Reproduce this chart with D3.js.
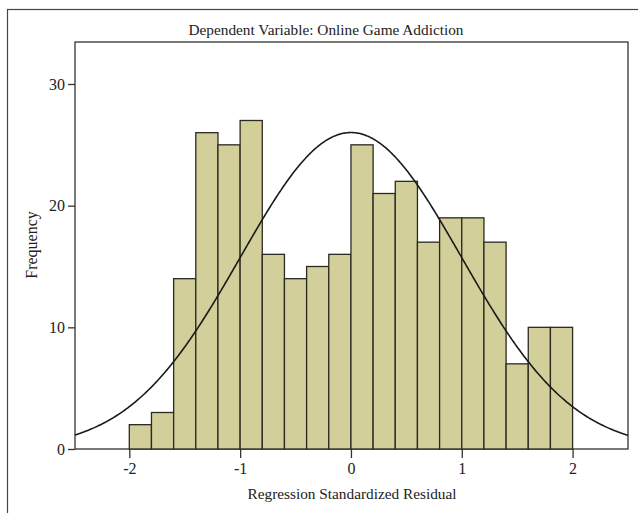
<!DOCTYPE html>
<html lang="en">
<head>
  <meta charset="UTF-8">
  <title>Histogram - Online Game Addiction</title>
  <style>
    body {
      margin: 0;
      padding: 0;
      background: #fff;
    }
    svg text {
      font-family: "Liberation Serif", "Times New Roman", serif;
      fill: #222;
    }
  </style>
</head>
<body>
  <svg id="chart" width="638" height="513"></svg>

  <script src="https://d3js.org/d3.v7.min.js"></script>
  <script>
    // histogram bins (left edge) and counts
    const binStarts = [-2.0, -1.8, -1.6, -1.4, -1.2, -1.0, -0.8, -0.6, -0.4, -0.2,
                        0.0,  0.2,  0.4,  0.6,  0.8,  1.0,  1.2,  1.4,  1.6,  1.8];
    const counts = [2, 3, 14, 26, 25, 27, 16, 14, 15, 16,
                    25, 21, 22, 17, 19, 19, 17, 7, 10, 10];
    const binWidth = 0.2;
    const xTicks = [-2, -1, 0, 1, 2];
    const yTicks = [0, 10, 20, 30];
    // normal curve params (standardized residuals)
    const curveMean = 0;
    const curveSd = 0.997;

    const svg = d3.select('#chart');
    const margin = { left: 75, top: 42, right: 628, bottom: 449 };

    const x = d3.scaleLinear()
      .domain([-2.49, 2.5])
      .range([margin.left, margin.right]);

    const y = d3.scaleLinear()
      .domain([0, 30])
      .range([margin.bottom, 84]);

    // outer frame
    svg.append('rect')
      .attr('x', 7.5)
      .attr('y', 9.5)
      .attr('width', 640)
      .attr('height', 520)
      .attr('fill', 'none')
      .attr('stroke', '#444')
      .attr('stroke-width', 1.2);

    // plot frame
    svg.append('rect')
      .attr('x', margin.left)
      .attr('y', margin.top)
      .attr('width', margin.right - margin.left)
      .attr('height', margin.bottom - margin.top)
      .attr('fill', 'none')
      .attr('stroke', '#333')
      .attr('stroke-width', 1.3);

    // bars
    const data = binStarts.map((b, i) => ({ x0: b, x1: b + binWidth, n: counts[i] }));
    svg.selectAll('.bar')
      .data(data)
      .enter()
      .append('rect')
      .attr('class', 'bar')
      .attr('x', d => x(d.x0))
      .attr('y', d => y(d.n))
      .attr('width', d => x(d.x1) - x(d.x0))
      .attr('height', d => y(0) - y(d.n))
      .attr('fill', '#d3cf9a')
      .attr('stroke', '#2a2a20')
      .attr('stroke-width', 1.3);

    // normal curve
    const total = d3.sum(counts);
    const scaleK = total * binWidth / (curveSd * Math.sqrt(2 * Math.PI));
    const curvePts = d3.range(-2.49, 2.501, 0.01).map(v => [v, scaleK * Math.exp(-0.5 * Math.pow((v - curveMean) / curveSd, 2))]);
    svg.append('path')
      .datum(curvePts)
      .attr('fill', 'none')
      .attr('stroke', '#1a1a1a')
      .attr('stroke-width', 1.6)
      .attr('d', d3.line().x(d => x(d[0])).y(d => y(d[1])));

    // axes
    const xAxis = svg.append('g')
      .attr('transform', `translate(0, ${margin.bottom})`)
      .call(d3.axisBottom(x).tickValues(xTicks).tickSize(9).tickPadding(5).tickFormat(d3.format('d')));
    const yAxis = svg.append('g')
      .attr('transform', `translate(${margin.left}, 0)`)
      .call(d3.axisLeft(y).tickValues(yTicks).tickSize(7).tickPadding(3).tickFormat(d3.format('d')));

    [xAxis, yAxis].forEach(g => {
      g.select('.domain').remove();
      g.selectAll('line').attr('stroke', '#333').attr('stroke-width', 1.3);
      g.selectAll('text')
        .attr('font-family', '"Liberation Serif", serif')
        .attr('font-size', 16)
        .attr('fill', '#333');
    });
    xAxis.selectAll('text').text(d => d < 0 ? '-' + Math.abs(d) : d);

    // labels
    svg.append('text')
      .attr('x', 326)
      .attr('y', 35)
      .attr('text-anchor', 'middle')
      .style('font-size', '15.3px')
      .text('Dependent Variable: Online Game Addiction');

    svg.append('text')
      .attr('x', 352)
      .attr('y', 499)
      .attr('text-anchor', 'middle')
      .style('font-size', '15.3px')
      .text('Regression Standardized Residual');

    svg.append('text')
      .attr('transform', 'translate(37, 245) rotate(-90)')
      .attr('text-anchor', 'middle')
      .style('font-size', '16px')
      .text('Frequency');
  </script>
</body>
</html>
